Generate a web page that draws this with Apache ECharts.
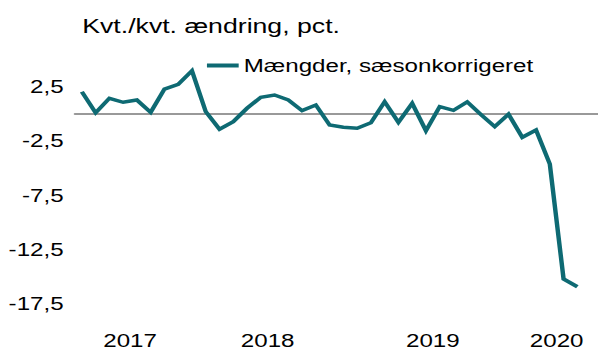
<!DOCTYPE html>
<html>
<head>
<meta charset="utf-8">
<script src="https://cdn.jsdelivr.net/npm/echarts@6/dist/echarts.min.js"></script>
<style>
  html, body { margin: 0; padding: 0; background: #fff; overflow: hidden; }
  /* the chart is laid out narrow and widened horizontally */
  #chart { width: 471px; height: 352px; transform: scaleX(1.2696); transform-origin: 0 0; }
</style>
</head>
<body>
<div id="chart"></div>
<script>
// Monthly observations, May 2017 - June 2020
const months = [
  '2017-05','2017-06','2017-07','2017-08','2017-09','2017-10','2017-11','2017-12',
  '2018-01','2018-02','2018-03','2018-04','2018-05','2018-06','2018-07','2018-08','2018-09','2018-10','2018-11','2018-12',
  '2019-01','2019-02','2019-03','2019-04','2019-05','2019-06','2019-07','2019-08','2019-09','2019-10','2019-11','2019-12',
  '2020-01','2020-02','2020-03','2020-04','2020-05','2020-06'
];

// Kvt./kvt. ændring, pct. (mængder, sæsonkorrigeret)
const volumes = [
  2.00, 0.07, 1.40, 1.03, 1.24, 0.11, 2.25, 2.68,
  3.93, 0.17, -1.45, -0.75, 0.48, 1.49, 1.70, 1.24, 0.26, 0.78, -1.06, -1.27,
  -1.36, -0.85, 1.08, -0.81, 0.94, -1.58, 0.63, 0.29, 1.06, -0.11, -1.21, -0.06,
  -2.19, -1.52, -4.64, -15.21, -15.92, null
];

const seriesName = 'Mængder, sæsonkorrigeret';
const unitTitle = 'Kvt./kvt. ændring, pct.';
const yMin = -17.5, yMax = 5, yStep = 5;

// year labels sit in the middle of each year's run of months
const years = [];
months.forEach((m, i) => {
  const y = m.slice(0, 4);
  const last = years[years.length - 1];
  if (!last || last.year !== y) years.push({ year: y, first: i, last: i });
  else last.last = i;
});
const yearPos = years.map(y => (y.first + y.last + 1) / 2);
const yearName = {};
years.forEach((y, k) => { yearName[yearPos[k]] = y.year; });

const FONT = "'Liberation Sans', Arial, sans-serif";
const TEAL = '#0e6a73';

const chart = echarts.init(document.getElementById('chart'), null, { renderer: 'svg' });
chart.setOption({
  animation: false,
  textStyle: { fontFamily: FONT, color: '#000' },
  title: {
    text: unitTitle,
    left: 59.8, top: 10,
    textStyle: { fontFamily: FONT, fontSize: 21, fontWeight: 'normal', color: '#000' }
  },
  legend: {
    data: [seriesName],
    left: 158, top: 51,
    icon: 'rect', itemWidth: 25, itemHeight: 4, itemGap: 4,
    textStyle: { fontFamily: FONT, fontSize: 19, color: '#000', padding: [0, 0, 0, -1] }
  },
  grid: { left: 59.06, right: 0, top: 59.1, bottom: 48.1, containLabel: false },
  xAxis: [
    {
      type: 'category', data: months, boundaryGap: true,
      axisLine: { show: true, onZero: true, lineStyle: { color: '#999', width: 2 } },
      axisTick: { show: false }, axisLabel: { show: false }, splitLine: { show: false }
    },
    {
      type: 'value', min: 0, max: months.length, position: 'bottom',
      axisLine: { show: false, onZero: false }, axisTick: { show: false }, splitLine: { show: false },
      axisLabel: {
        customValues: yearPos, margin: 27,
        fontFamily: FONT, fontSize: 19, color: '#000',
        formatter: v => yearName[v] || ''
      }
    }
  ],
  yAxis: {
    type: 'value', min: yMin, max: yMax, interval: yStep,
    axisLine: { show: false }, axisTick: { show: false }, splitLine: { show: false },
    axisLabel: {
      margin: 9, showMaxLabel: false,
      fontFamily: FONT, fontSize: 19, color: '#000',
      padding: [5, 0, 0, 0],
      formatter: v => (v === yMax ? '' : v.toFixed(1).replace('.', ','))
    }
  },
  series: [{
    name: seriesName, type: 'line', xAxisIndex: 0,
    data: volumes, showSymbol: false, symbol: 'none',
    itemStyle: { color: TEAL },
    lineStyle: { color: TEAL, width: 3.5, join: 'miter' }
  }]
});
</script>
</body>
</html>
